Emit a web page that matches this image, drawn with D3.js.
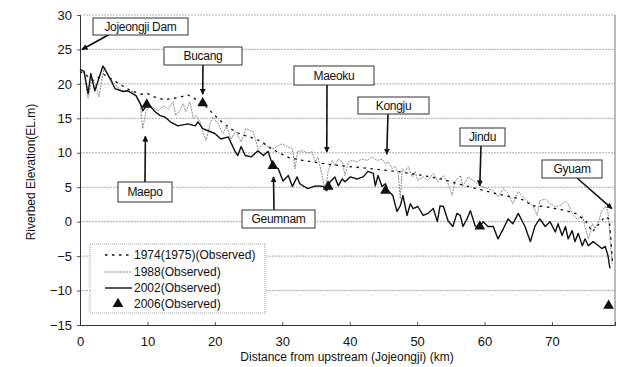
<!DOCTYPE html>
<html>
<head>
<meta charset="utf-8">
<script src="https://cdn.jsdelivr.net/npm/d3@7"></script>
<style>
  body { margin: 0; background: #fff; }
  text { font-family: "Liberation Sans", Arial, sans-serif; fill: #111; }
</style>
</head>
<body>
<div id="chart"></div>
<script>
// ---- data ----
const km1974 = [0, 1, 2, 3.5, 5, 7, 9, 10, 11, 12.5, 14.5, 16, 17.5, 18.2, 19, 20, 21, 22.5, 24, 25, 27, 28, 29.5, 31, 33, 35, 37, 39, 42, 44, 47, 49, 52, 54, 56, 58, 60, 62, 64, 66, 67, 69, 70.5, 72, 73.5, 75, 76, 77, 77.8, 78.5, 79];
const elev1974 = [21.8, 21.2, 20.5, 21.4, 20.5, 19.3, 18.5, 18.6, 18.1, 17.7, 18.0, 18.4, 17.6, 17.2, 16.4, 15.4, 14.5, 13.4, 12.6, 12.4, 11.6, 10.8, 10.0, 9.3, 8.9, 8.6, 8.3, 8.1, 7.8, 7.6, 7.3, 7.0, 6.5, 6.1, 5.5, 5.0, 4.5, 4.0, 3.6, 3.1, 2.3, 2.2, 1.9, 1.6, 1.2, 0.1, -1.5, -0.3, 0.7, 0.4, -6.0];

const km1988 = [0, 0.6, 1.2, 1.8, 2.4, 2.8, 3.6, 4.7, 6.1, 7.9, 8.9, 9.3, 9.8, 10.5, 11.6, 12.3, 13.1, 13.8, 14.2, 14.8, 15.3, 15.7, 16.3, 16.8, 17.2, 17.8, 18.2, 18.7, 19.3, 19.7, 20.5, 21.2, 21.7, 22.4, 23.1, 23.9, 24.6, 25.4, 25.7, 26.4, 27.2, 27.9, 28.6, 29.4, 30.0, 30.7, 31.5, 31.9, 32.3, 33.1, 33.8, 34.4, 34.9, 35.3, 35.9, 36.4, 36.8, 37.4, 37.8, 38.3, 38.9, 39.3, 39.8, 40.4, 41.1, 41.8, 42.6, 43.3, 44.1, 44.8, 45.3, 45.7, 46.3, 46.7, 47.2, 47.5, 47.8, 48.2, 48.7, 49.3, 49.7, 50.1, 50.9, 51.6, 52.4, 53.1, 53.9, 54.6, 55.2, 55.6, 56.4, 56.8, 57.6, 58.3, 59.3, 60.4, 61.3, 62.0, 62.8, 63.5, 64.2, 65.0, 65.7, 66.5, 67.2, 67.8, 68.2, 69.0, 69.7, 70.5, 71.2, 72.0, 72.4, 73.0, 73.7, 74.5, 74.9, 75.4, 76.0, 76.4, 76.9, 77.4, 77.9, 78.3, 78.8, 78.9];
const elev1988 = [21.9, 21.6, 17.9, 20.8, 19.7, 18.1, 22.5, 20.5, 19.0, 18.9, 17.4, 13.5, 16.0, 16.8, 16.1, 16.8, 16.4, 17.4, 15.4, 16.1, 17.1, 16.0, 17.4, 15.0, 15.4, 14.5, 13.1, 11.8, 14.2, 15.2, 14.2, 12.8, 13.8, 12.0, 13.1, 11.6, 13.5, 13.2, 13.1, 10.6, 11.3, 10.9, 10.6, 11.0, 11.3, 10.9, 10.6, 7.7, 10.2, 10.3, 9.9, 10.2, 8.7, 9.4, 6.7, 4.5, 7.3, 8.9, 8.1, 9.1, 8.7, 6.7, 8.7, 8.9, 8.7, 9.1, 8.9, 9.4, 8.9, 9.1, 8.4, 8.7, 7.7, 8.1, 7.0, 3.3, 7.7, 7.3, 8.0, 6.5, 7.3, 6.0, 6.5, 6.0, 7.0, 5.8, 6.7, 5.5, 3.8, 5.8, 6.7, 5.2, 6.5, 6.0, 5.2, 4.8, 4.5, 3.6, 4.8, 4.1, 2.6, 4.4, 3.6, 2.9, 2.3, 0.9, 3.0, 3.3, 2.6, 2.2, 2.3, 3.0, 2.6, 1.2, 0.4, 0.9, -0.7, -2.5, -0.3, -1.0, 0.0, 1.6, 2.2, 1.5, -4.6, -6.1];

const km2002 = [0, 0.6, 1.2, 1.6, 2.2, 3.4, 4.5, 5.2, 6.4, 7.1, 8.3, 9.1, 9.3, 10.1, 11.1, 11.9, 12.6, 13.4, 14.5, 16.0, 17.1, 17.5, 18.2, 19.0, 20.0, 20.9, 22.0, 23.0, 23.4, 23.9, 24.5, 25.4, 26.4, 27.2, 27.9, 28.6, 29.4, 30.1, 30.9, 31.5, 32.2, 32.6, 33.1, 33.8, 34.6, 35.3, 36.1, 36.6, 37.1, 37.8, 38.3, 38.9, 39.3, 40.1, 41.1, 42.0, 42.7, 43.5, 43.8, 44.2, 44.8, 45.3, 45.7, 46.4, 47.0, 47.5, 47.9, 48.5, 49.0, 49.4, 50.1, 50.9, 51.6, 52.4, 53.0, 53.4, 53.9, 54.6, 55.3, 55.9, 56.4, 56.8, 57.4, 57.9, 58.6, 59.1, 59.8, 60.5, 61.3, 62.0, 62.8, 63.5, 64.2, 65.0, 66.0, 66.8, 67.5, 68.2, 69.0, 69.7, 70.5, 70.9, 71.5, 72.0, 72.4, 73.0, 73.4, 73.9, 74.5, 74.9, 75.4, 76.1, 76.9, 77.4, 77.9, 78.3, 78.6];
const elev2002 = [22.1, 21.8, 18.6, 21.5, 19.0, 22.6, 20.7, 19.3, 18.9, 19.0, 18.3, 16.8, 16.1, 17.1, 16.0, 15.4, 15.2, 14.5, 13.9, 14.2, 13.9, 14.5, 13.5, 13.2, 12.8, 12.0, 12.3, 10.2, 9.6, 10.9, 9.6, 9.4, 10.3, 9.6, 10.2, 8.1, 7.7, 5.9, 6.7, 5.1, 6.5, 5.5, 5.2, 4.8, 5.1, 5.2, 5.1, 4.5, 5.8, 6.5, 5.2, 6.2, 5.8, 6.5, 6.2, 6.5, 7.3, 7.0, 5.2, 6.7, 5.1, 5.5, 4.5, 3.8, 1.5, 2.3, 3.8, 0.9, 2.6, 1.9, 2.2, 0.9, 1.2, 1.9, 0.0, 2.3, 2.2, 0.1, -0.7, 1.2, 0.9, -0.7, 0.4, 1.6, -0.6, -1.0, 0.0, -0.7, -0.7, -2.5, -1.0, 0.4, -0.3, 1.2, -0.7, -2.9, -0.6, 0.4, -0.7, 0.0, -1.5, -0.3, -2.0, -0.7, -2.5, -1.3, -2.9, -1.7, -3.5, -2.5, -3.5, -2.9, -3.5, -3.9, -3.6, -4.9, -6.8];

const km2006 = [9.9, 18.2, 28.6, 36.8, 45.3, 59.3, 78.4];
const elev2006 = [17.0, 17.2, 8.1, 5.1, 4.5, -0.7, -12.2];

const xTicks = [0, 10, 20, 30, 40, 50, 60, 70];
const yTicks = [-15, -10, -5, 0, 5, 10, 15, 20, 25, 30];

const legendLabels = ['1974(1975)(Observed)', '1988(Observed)', '2002(Observed)', '2006(Observed)'];

// callouts: label, box [x, y, w, h], arrow start in px, arrow tip as [km, elev]
const callouts = [
  { label: 'Jojeongji Dam', box: [93, 18, 95, 17], from: [110, 34], to: [0.3, 25] },
  { label: 'Bucang', box: [164, 47, 78, 18], from: [203, 65], to: [18.2, 18.5] },
  { label: 'Maeoku', box: [294, 66, 80, 19], from: [327, 85], to: [36.6, 10.1] },
  { label: 'Kongju', box: [358, 97, 71, 17], from: [388, 114], to: [45.5, 9.8] },
  { label: 'Jindu', box: [460, 128, 45, 18], from: [481, 146], to: [59.3, 5.2] },
  { label: 'Gyuam', box: [542, 160, 60, 18], from: [577, 178], to: [78.9, 1.9] },
  { label: 'Maepo', box: [118, 182, 54, 20], from: [145, 182], to: [9.7, 12.4] },
  { label: 'Geumnam', box: [242, 210, 73, 18], from: [274, 210], to: [28.7, 6.5] }
];

// ---- chart ----
const W = 617, H = 367;
const svg = d3.select('#chart').append('svg')
  .attr('width', W).attr('height', H);

const x = d3.scaleLinear().domain([0, 79.35]).range([80, 615]);
const y = d3.scaleLinear().domain([-15, 30]).range([325, 15]);

// gridlines
svg.append('g')
  .selectAll('line')
  .data(yTicks.filter(d => d > -15))
  .enter().append('line')
  .attr('x1', x(0)).attr('x2', x.range()[1])
  .attr('y1', d => y(d)).attr('y2', d => y(d))
  .attr('stroke', '#999')
  .attr('stroke-width', 0.8)
  .attr('stroke-dasharray', '2,1');

// right border
svg.append('line')
  .attr('x1', x.range()[1]).attr('x2', x.range()[1])
  .attr('y1', y(30)).attr('y2', y(-15))
  .attr('stroke', '#777').attr('stroke-width', 1);

// axes
svg.append('g')
  .attr('transform', `translate(0,${y(-15)})`)
  .call(d3.axisBottom(x).tickValues(xTicks).tickSize(-3).tickPadding(12).tickFormat(d3.format('d')))
  .call(g => g.select('.domain').attr('stroke', '#333'))
  .call(g => g.selectAll('.tick line').attr('stroke', '#555'))
  .call(g => g.selectAll('.tick text').style('font-size', '13px')
    .style('font-family', '"Liberation Sans", Arial, sans-serif').attr('fill', '#111'));

svg.append('g')
  .attr('transform', `translate(${x(0)},0)`)
  .call(d3.axisLeft(y).tickValues(yTicks).tickSize(3).tickPadding(5).tickFormat(d => d < 0 ? '\u2212' + Math.abs(d) : d))
  .call(g => g.select('.domain').attr('stroke', '#333'))
  .call(g => g.selectAll('.tick line').attr('stroke', '#555'))
  .call(g => g.selectAll('.tick text').style('font-size', '13px')
    .style('font-family', '"Liberation Sans", Arial, sans-serif').attr('fill', '#111'));

// axis titles
svg.append('text')
  .attr('x', 347).attr('y', 361)
  .attr('text-anchor', 'middle')
  .style('font-size', '12px')
  .text('Distance from upstream (Jojeongji) (km)');

svg.append('text')
  .attr('transform', 'rotate(-90)')
  .attr('x', -172).attr('y', 35)
  .attr('text-anchor', 'middle')
  .style('font-size', '12px')
  .text('Riverbed Elevation(EL.m)');

// series
const line = d3.line().x(d => x(d[0])).y(d => y(d[1]));

svg.append('path')
  .datum(d3.zip(km1988, elev1988))
  .attr('d', line)
  .attr('fill', 'none')
  .attr('stroke', '#8a8a8a')
  .attr('stroke-width', 1)
  .attr('stroke-dasharray', '2,1');

svg.append('path')
  .datum(d3.zip(km2002, elev2002))
  .attr('d', line)
  .attr('fill', 'none')
  .attr('stroke', '#111')
  .attr('stroke-width', 1.4)
  .attr('stroke-linejoin', 'round');

svg.append('path')
  .datum(d3.zip(km1974, elev1974))
  .attr('d', line)
  .attr('fill', 'none')
  .attr('stroke', '#111')
  .attr('stroke-width', 1.3)
  .attr('stroke-dasharray', '2.5,4.5');

const tri = d3.symbol().type(d3.symbolTriangle).size(50);
svg.append('g')
  .selectAll('path')
  .data(d3.zip(km2006, elev2006))
  .enter().append('path')
  .attr('d', tri)
  .attr('transform', d => `translate(${x(d[0])},${y(d[1])})`)
  .attr('fill', '#111');

// arrow marker
svg.append('defs').append('marker')
  .attr('id', 'arrow')
  .attr('viewBox', '0 0 10 10')
  .attr('refX', 9).attr('refY', 5)
  .attr('markerWidth', 6).attr('markerHeight', 6)
  .attr('markerUnits', 'userSpaceOnUse')
  .attr('orient', 'auto')
  .append('path')
  .attr('d', 'M0,0 L10,5 L0,10 Z')
  .attr('fill', '#111');

// callouts
const co = svg.append('g').selectAll('g')
  .data(callouts)
  .enter().append('g');

co.append('line')
  .attr('x1', d => d.from[0]).attr('y1', d => d.from[1])
  .attr('x2', d => x(d.to[0])).attr('y2', d => y(d.to[1]))
  .attr('stroke', '#111')
  .attr('stroke-width', 1.6)
  .attr('marker-end', 'url(#arrow)');

co.append('rect')
  .attr('x', d => d.box[0]).attr('y', d => d.box[1])
  .attr('width', d => d.box[2]).attr('height', d => d.box[3])
  .attr('fill', '#fff')
  .attr('stroke', '#333')
  .attr('stroke-width', 1);

co.append('text')
  .attr('x', d => d.box[0] + d.box[2] / 2)
  .attr('y', d => d.box[1] + d.box[3] / 2 + 4)
  .attr('text-anchor', 'middle')
  .style('font-size', '12px')
  .style('letter-spacing', '-0.3px')
  .text(d => d.label);

// legend
const lg = svg.append('g');
lg.append('rect')
  .attr('x', 90).attr('y', 244).attr('width', 175).attr('height', 69)
  .attr('fill', '#fff')
  .attr('stroke', '#888')
  .attr('stroke-width', 0.8)
  .attr('stroke-dasharray', '1,1');

const rowY = [255, 272, 288, 304];
const lineStyles = [
  { stroke: '#111', width: 1.3, dash: '2.5,4.5' },
  { stroke: '#8a8a8a', width: 1, dash: '2,1' },
  { stroke: '#111', width: 1.4, dash: null }
];

lineStyles.forEach((s, i) => {
  lg.append('line')
    .attr('x1', 105).attr('x2', 132)
    .attr('y1', rowY[i]).attr('y2', rowY[i])
    .attr('stroke', s.stroke)
    .attr('stroke-width', s.width)
    .attr('stroke-dasharray', s.dash);
});

lg.append('path')
  .attr('d', tri)
  .attr('transform', `translate(118,${rowY[3]})`)
  .attr('fill', '#111');

lg.selectAll('text.lbl')
  .data(legendLabels)
  .enter().append('text')
  .attr('class', 'lbl')
  .attr('x', 134)
  .attr('y', (d, i) => rowY[i] + 4)
  .style('font-size', '12px')
  .text(d => d);
</script>
</body>
</html>
